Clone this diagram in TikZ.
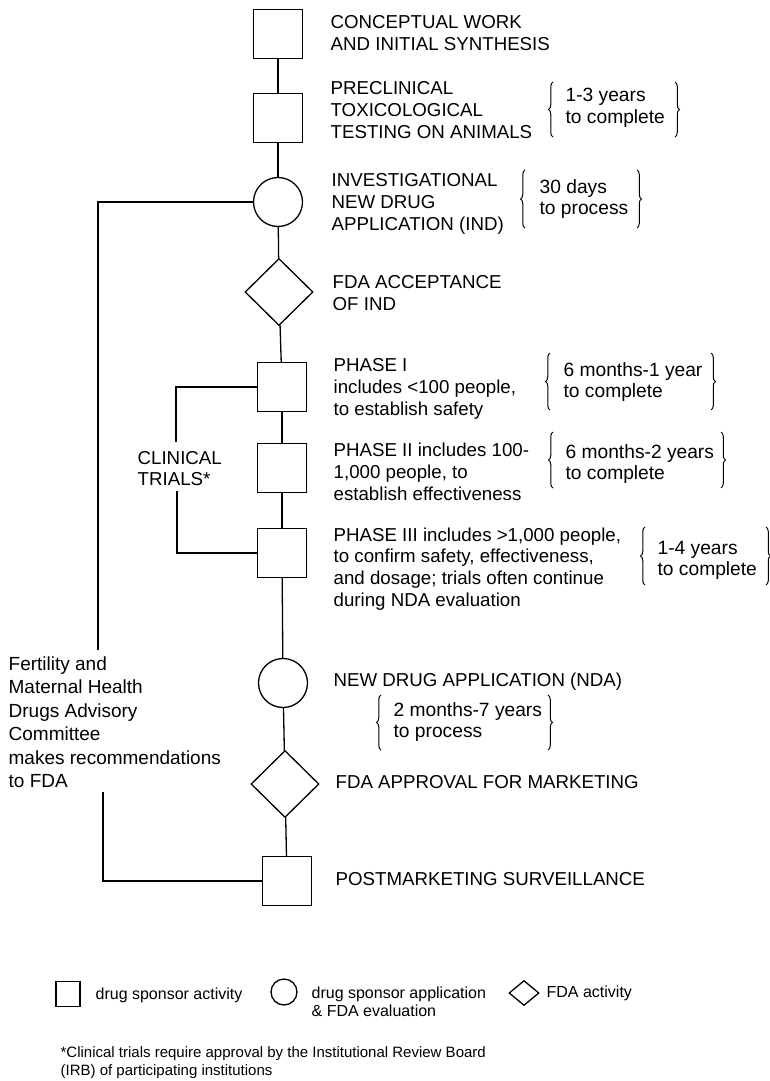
\documentclass[tikz,border=0pt]{standalone}
\usepackage{fontspec}
\setmainfont{Liberation Sans}
\usetikzlibrary{shapes.geometric,decorations.pathreplacing}

\tikzset{
  actbox/.style={draw, rectangle, minimum width=49pt, minimum height=49pt, inner sep=0pt},
  appcirc/.style={draw, circle, minimum size=49pt, inner sep=0pt},
  fdadia/.style={draw, diamond, minimum width=68pt, minimum height=67pt, inner sep=0pt},
  lbl/.style={anchor=base west, align=left, inner sep=0pt, font=\fontsize{18.7}{21.8}\selectfont},
  tlbl/.style={lbl, font=\fontsize{19.2}{21.8}\selectfont},
  leglbl/.style={lbl, font=\fontsize{16}{18}\selectfont},
  brc/.style={decorate, decoration={brace, amplitude=4.5pt}, line width=1pt},
}

\begin{document}
\begin{tikzpicture}[x=1pt, y=-1pt, line width=1.3pt]
\useasboundingbox (0,0) rectangle (770,1081);

% steps
\node[actbox] (sq1) at (278,34) {};
\node[actbox] (sq2) at (278,118) {};
\node[appcirc] (ind) at (278,202) {};
\node[fdadia] (acc) at (279,292) {};
\node[actbox] (ph1) at (282,387) {};
\node[actbox] (ph2) at (282,468) {};
\node[actbox] (ph3) at (282,553) {};
\node[appcirc] (nda) at (283,683) {};
\node[fdadia] (appr) at (285,784) {};
\node[actbox] (post) at (287,881) {};

\draw (sq1) -- (sq2);
\draw (sq2) -- (ind);
\draw (ind) -- (acc);
\draw (acc) -- (ph1);
\draw (ph1) -- (ph2);
\draw (ph2) -- (ph3);
\draw (ph3) -- (nda);
\draw (nda) -- (appr);
\draw (appr) -- (post);

% step texts (base = last line)
\node[lbl] (t1) at (330,50.4) {CONCEPTUAL WORK\\AND INITIAL SYNTHESIS};
\node[lbl] (t2) at (330,138.2) {PRECLINICAL\\TOXICOLOGICAL\\TESTING ON ANIMALS};
\node[lbl] (t3) at (331,230.2) {INVESTIGATIONAL\\NEW DRUG\\APPLICATION (IND)};
\node[lbl] (t4) at (332,310.4) {FDA ACCEPTANCE\\OF IND};
\node[lbl] (t5) at (333,415.2) {PHASE I\\includes {<}100 people,\\to establish safety};
\node[lbl] (t6) at (333,500.2) {PHASE II includes 100-\\1,000 people, to\\establish effectiveness};
\node[lbl] (t7) at (333,606.4) {PHASE III includes {>}1,000 people,\\to confirm safety, effectiveness,\\and dosage; trials often continue\\during NDA evaluation};
\node[lbl] (t8) at (333,686.6) {NEW DRUG APPLICATION (NDA)};
\node[lbl] (t9) at (335,788) {FDA APPROVAL FOR MARKETING};
\node[lbl] (t10) at (335,885.6) {POSTMARKETING SURVEILLANCE};

% time spans
\node[tlbl] (d1) at (565,123.5) {1-3 years\\to complete};
\draw[brc] (553,137) -- (553,82);
\draw[brc] (675,82) -- (675,137);
\node[tlbl] (d2) at (539,214.8) {30 days\\to process};
\draw[brc] (525,228) -- (525,170);
\draw[brc] (637,170) -- (637,228);
\node[tlbl] (d3) at (563,397.8) {6 months-1 year\\to complete};
\draw[brc] (550,410) -- (550,353);
\draw[brc] (711,353) -- (711,410);
\node[tlbl] (d4) at (565,479.8) {6 months-2 years\\to complete};
\draw[brc] (553,488) -- (553,432);
\draw[brc] (721,432) -- (721,488);
\node[tlbl] (d5) at (657,575.8) {1-4 years\\to complete};
\draw[brc] (645,585) -- (645,527);
\draw[brc] (766,527) -- (766,585);
\node[tlbl] (d6) at (393,737.8) {2 months-7 years\\to process};
\draw[brc] (381,750) -- (381,695);
\draw[brc] (548,695) -- (548,750);

% clinical trials bracket
\node[lbl] (ct) at (137,485.8) {CLINICAL\\TRIALS*};
\coordinate (cttop) at (176,442);
\coordinate (ctbot) at (177,491);
\draw (ph1.west) -| (cttop);
\draw (ph3.west) -| (ctbot);

% advisory committee
\node[lbl, font=\fontsize{19}{23.5}\selectfont] (fmh) at (8,787.5) {Fertility and\\Maternal Health\\Drugs Advisory\\Committee\\makes recommendations\\to FDA};
\coordinate (fmhtop) at (98,650);
\coordinate (fmhbot) at (103,792);
\draw (ind.west) -| (fmhtop);
\draw (post.west) -| (fmhbot);

% legend
\node[draw, rectangle, minimum width=24pt, minimum height=25pt, inner sep=0pt] (lsq) at (68,994) {};
\node[leglbl] (lsqt) at (95,999) {drug sponsor activity};
\node[draw, circle, minimum size=26pt, inner sep=0pt] (lci) at (284,992) {};
\node[leglbl] (lcit) at (311,1016) {drug sponsor application\\\& FDA evaluation};
\node[draw, diamond, minimum width=30pt, minimum height=25pt, inner sep=0pt] (ldi) at (524,993) {};
\node[leglbl] (ldit) at (546,997.5) {FDA activity};

\node[leglbl, font=\fontsize{15}{18}\selectfont] (note) at (60,1075) {*Clinical trials require approval by the Institutional Review Board\\(IRB) of participating institutions};
\end{tikzpicture}
\end{document}
